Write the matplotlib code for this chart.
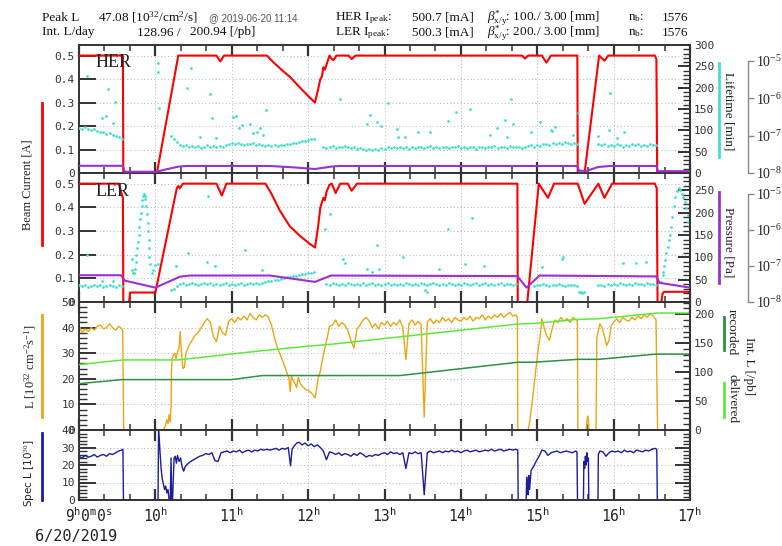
import numpy as np
import matplotlib
matplotlib.use("Agg")
import matplotlib.pyplot as plt
import matplotlib.transforms as mtransforms
from matplotlib.lines import Line2D
from matplotlib.ticker import (MultipleLocator, FixedLocator, FuncFormatter,
                               NullLocator)

plt.rcParams.update({
    "font.family": "DejaVu Sans Mono",
    "mathtext.fontset": "custom",
    "mathtext.rm": "Liberation Serif",
    "mathtext.it": "Liberation Serif:italic",
    "mathtext.bf": "Liberation Serif:bold",
    "mathtext.tt": "DejaVu Sans Mono",
    "mathtext.sf": "DejaVu Sans",
})

STEP = 0.04  # h, sampling interval of the noisy records

# ---------------------------------------------------------------- beam currents [A]
her_cur_t = [9.00, 9.575, 9.58, 10.02, 10.30, 10.80, 10.85, 10.90, 11.46, 11.55, 11.65,
             11.76, 11.89, 12.00, 12.09, 12.13, 12.16, 12.18, 12.20, 12.22, 12.25, 12.28,
             12.30, 12.33, 12.37, 12.53, 12.57, 12.62, 14.80, 14.84, 14.88, 15.06, 15.12,
             15.18, 15.525, 15.53, 15.62, 15.81, 15.88, 15.93, 16.54, 16.56, 16.57, 17.00]
her_cur_v = [0.50, 0.50, 0.00, 0.00, 0.50, 0.50, 0.475, 0.50, 0.50, 0.47, 0.44,
             0.41, 0.365, 0.328, 0.30, 0.355, 0.40, 0.41, 0.45, 0.44, 0.47, 0.50,
             0.49, 0.48, 0.50, 0.50, 0.485, 0.50, 0.50, 0.487, 0.50, 0.50, 0.47,
             0.50, 0.50, 0.00, 0.00, 0.50, 0.478, 0.50, 0.50, 0.485, 0.00, 0.00]

ler_cur_t = [9.00, 9.52, 9.56, 9.575, 9.58, 9.655, 9.67, 10.00, 10.28, 10.30, 10.32,
             10.36, 10.80, 10.87, 10.93, 11.44, 11.52, 11.63, 11.76, 11.89, 12.02, 12.09,
             12.13, 12.16, 12.20, 12.22, 12.24, 12.28, 12.31, 12.36, 12.42, 12.52, 12.57,
             12.64, 14.74, 14.745, 14.87, 15.02, 15.14, 15.22, 15.53, 15.62, 15.80, 15.88,
             15.98, 16.54, 16.565, 16.575, 16.625, 16.64, 16.66, 17.00]
ler_cur_v = [0.50, 0.50, 0.455, 0.44, 0.00, 0.00, 0.04, 0.04, 0.48, 0.49, 0.48,
             0.50, 0.50, 0.45, 0.50, 0.50, 0.457, 0.386, 0.32, 0.28, 0.246, 0.23,
             0.317, 0.40, 0.44, 0.43, 0.465, 0.495, 0.50, 0.46, 0.50, 0.50, 0.47,
             0.50, 0.50, 0.00, 0.00, 0.50, 0.44, 0.50, 0.50, 0.415, 0.50, 0.44,
             0.50, 0.50, 0.48, 0.00, 0.00, 0.035, 0.043, 0.043]

# ---------------------------------------------------------------- pressures [Pa]
her_pres_t = [9.00, 9.57, 9.60, 10.02, 10.10, 10.30, 10.40, 11.50, 11.80, 12.09, 12.30,
              12.40, 15.52, 15.55, 15.65, 15.80, 15.95, 16.56, 16.58, 17.00]
her_pres_v = [1.56e-8, 1.56e-8, 1.08e-8, 1.08e-8, 1.2e-8, 1.48e-8, 1.54e-8, 1.54e-8,
              1.42e-8, 1.28e-8, 1.48e-8, 1.54e-8, 1.54e-8, 1.15e-8, 1.15e-8, 1.45e-8,
              1.54e-8, 1.54e-8, 1.12e-8, 1.12e-8]

ler_pres_t = [9.00, 9.55, 9.60, 10.00, 10.32, 10.45, 11.50, 11.80, 12.09, 12.30, 14.74,
              14.86, 15.03, 16.56, 16.60, 17.00]
ler_pres_v = [5.5e-8, 5.5e-8, 3.9e-8, 2.5e-8, 5.0e-8, 5.4e-8, 5.4e-8, 4.4e-8, 3.6e-8,
              5.4e-8, 5.2e-8, 2.5e-8, 5.4e-8, 5.1e-8, 3.4e-8, 2.5e-8]

# ---------------------------------------------------------------- beam lifetimes [min]
her_life_run1 = (9.00, [106, 104, 108, 103, 101, 104, 99, 97, 95, 92, 94, 89, 86, 84, 80])
her_life_run2 = (10.20, [86, 79, 72, 66, 63, 65, 61, 64, 60, 63, 59, 62, 65, 61, 63, 60,
                         64, 62, 66, 68, 70, 67, 71, 68, 66, 69, 67, 70, 66, 68, 65, 64,
                         66, 63, 65, 64, 66, 65, 68, 67, 70, 71, 73, 74, 76, 77, 79, 80])
her_life_run3 = (12.20, [62, 58, 61, 63, 59, 62, 60, 64, 61, 58, 60, 57, 59, 56, 55,
                         57, 54, 56, 55, 58, 57, 60, 58, 61, 59, 62, 58, 60, 57, 61,
                         59, 62, 60, 58, 61, 63, 59, 61, 58, 60, 62, 59, 61, 60, 63,
                         58, 61, 59, 62, 60, 57, 60, 62, 59, 61, 60, 63, 58, 61, 62,
                         59, 64, 61, 60, 62, 58, 61, 63, 65, 62, 66, 64, 67, 69, 66,
                         70, 68, 71, 69, 72, 70, 68, 71, 69])
her_life_run4 = (15.80, [68, 65, 67, 63, 66, 64, 67, 65, 62, 66, 64, 67, 65, 68, 64,
                         66, 63, 67, 65, 66])
her_life_spread = [(9.10, 227), (9.38, 198), (9.36, 134), (9.47, 166), (9.44, 118),
                   (9.30, 128), (10.03, 258), (10.04, 237), (10.05, 152), (10.42, 200),
                   (10.47, 245), (10.71, 184), (10.74, 129), (10.58, 85), (10.80, 81),
                   (11.02, 131), (11.06, 134), (11.10, 105), (11.13, 112), (11.24, 116),
                   (11.28, 93), (11.33, 97), (11.37, 105), (11.45, 148), (11.41, 88),
                   (12.42, 173), (12.77, 114), (12.81, 136), (12.90, 120), (12.96, 110),
                   (13.05, 165), (13.16, 102), (13.18, 85), (13.27, 85), (13.44, 97),
                   (13.59, 95), (13.83, 122), (13.94, 144), (14.12, 149), (14.38, 89),
                   (14.47, 106), (14.58, 124), (14.60, 85), (14.66, 173), (14.68, 116),
                   (14.92, 95), (15.03, 120), (15.19, 99), (15.23, 107), (15.18, 101),
                   (15.47, 89), (15.54, 141), (15.80, 87), (15.94, 101), (15.95, 187),
                   (16.04, 81), (16.13, 97)]

ler_life_run1 = (9.00, [38, 35, 37, 34, 36, 39, 35, 37, 33, 36, 38, 35, 34, 37, 36])
ler_life_rise1 = [(9.69, 97), (9.70, 72), (9.71, 64), (9.72, 66), (9.73, 75), (9.74, 90),
                  (9.75, 105), (9.76, 120), (9.77, 135), (9.78, 150), (9.79, 168),
                  (9.80, 185), (9.81, 200), (9.82, 215), (9.83, 228), (9.84, 237),
                  (9.85, 241), (9.86, 238), (9.87, 230), (9.88, 216), (9.89, 198),
                  (9.90, 178), (9.905, 160), (9.91, 140), (9.915, 120), (9.92, 100),
                  (9.925, 86), (9.95, 64), (9.97, 71), (10.00, 82), (10.04, 86)]
ler_life_run2 = (10.20, [26, 30, 35, 40, 42, 39, 41, 43, 40, 38, 41, 43, 40, 42, 39, 41,
                         38, 40, 42, 39, 41, 38, 40, 42, 39, 41, 43, 40, 42, 41, 43, 45,
                         46, 47, 49, 50, 52, 53, 55, 56, 58, 59, 61, 62, 63, 65, 66, 68])
ler_life_run3 = (12.24, [41, 38, 42, 40, 37, 41, 39, 43, 40, 38,
                         41, 39, 42, 37, 40, 43, 39, 41, 38, 40,
                         42, 39, 41, 37, 40, 38, 42, 40, 39, 41,
                         38, 42, 40, 39, 41, 43, 40, 38, 41, 39,
                         42, 40, 37, 41, 39, 42, 40, 38, 41, 43,
                         39, 40, 42, 38, 41, 39, 40, 42, 38, 41,
                         40, 39, 41])
ler_life_run4 = (14.96, [36, 39, 37, 40, 38, 36, 39, 37, 40, 38, 36, 39, 37, 38, 36])
ler_life_dip = [(15.55, 22), (15.57, 23), (15.59, 21), (15.61, 22)]
ler_life_run5 = (15.80, [37, 39, 36, 40, 38, 41, 39, 42, 40, 38, 41, 39, 42, 40, 41,
                         39, 42, 40, 41, 39])
ler_life_rise2 = [(16.62, 45), (16.64, 60), (16.65, 67), (16.66, 80), (16.67, 94),
                  (16.69, 110), (16.71, 123), (16.73, 140), (16.74, 150), (16.75, 168),
                  (16.77, 190), (16.79, 215), (16.81, 235), (16.83, 248), (16.85, 255),
                  (16.87, 251), (16.89, 243), (16.91, 235), (16.93, 225), (16.95, 210),
                  (16.97, 195), (16.98, 180), (16.99, 168), (17.00, 157)]
ler_life_spread = [(9.10, 105), (9.30, 46), (9.45, 47), (10.27, 81), (10.43, 109),
                   (10.67, 90), (10.69, 238), (10.78, 81), (11.17, 116), (11.39, 71),
                   (12.22, 163), (12.29, 197), (12.46, 96), (12.48, 88), (12.77, 75),
                   (12.83, 67), (12.90, 127), (12.93, 75), (13.24, 101), (13.53, 26),
                   (13.55, 22), (13.72, 75), (13.83, 163), (14.06, 85), (14.15, 189),
                   (14.30, 80), (15.06, 79), (15.32, 96), (15.34, 101), (16.12, 88),
                   (16.29, 88), (16.43, 90)]

# ---------------------------------------------------------------- luminosity [1e32 cm-2 s-1]
lum_run1 = (9.00, [41, 38, 39.5, 38.5, 40, 39, 40.5, 41, 39.5, 40, 41.5, 40, 39, 40.5, 39.5])
lum_edge1 = [(9.572, 39), (9.578, 20), (9.585, 0), (10.10, 0), (10.13, 1.5), (10.15, 4),
             (10.165, 2.5), (10.18, 6), (10.195, 3), (10.205, 9), (10.21, 22), (10.22, 28),
             (10.25, 30), (10.27, 28), (10.29, 30.5), (10.31, 32), (10.325, 38.5),
             (10.34, 31), (10.36, 24), (10.38, 24.5)]
lum_run2 = (10.40, [30, 33, 35, 37, 38, 40, 42, 43.5, 42, 36.5, 34.5, 40.5, 38, 37,
                    42.5, 43.5, 42, 44, 43, 44.5, 43, 45.5, 44, 43, 45, 44, 45, 44])
lum_edge2 = [(11.52, 41), (11.56, 36), (11.60, 32), (11.64, 29), (11.68, 26), (11.72, 22.5),
             (11.75, 20), (11.765, 15), (11.78, 21), (11.80, 19.5), (11.83, 18),
             (11.85, 16.5), (11.87, 20.5), (11.90, 18), (11.93, 17), (11.96, 16),
             (12.00, 15.5), (12.04, 14.5), (12.07, 13.5), (12.09, 12.5), (12.11, 16),
             (12.13, 20), (12.16, 23), (12.19, 28), (12.22, 32), (12.25, 36), (12.28, 40.5)]
lum_run3 = (12.32, [41, 43, 40.5, 42, 41, 39, 35, 32, 39.5, 41, 43, 44, 42.5, 40, 41.5,
                    39.5, 42, 41, 42.5, 40.5, 42, 41, 43, 40, 27.5, 41.5, 43, 41, 42.5, 41,
                    5, 42, 43.5, 41.5, 43, 42, 44, 42.5, 43.5, 42, 44, 43, 42.5, 44, 43,
                    44.5, 42.5, 44, 43.5, 45, 43, 44.5, 43.5, 45, 44, 45.5, 44, 45, 46,
                    44.5, 45])
lum_edge3 = [(14.74, 44), (14.745, 0), (14.88, 0), (14.90, 3), (14.93, 10), (14.96, 18),
             (14.99, 26), (15.01, 31), (15.035, 36), (15.06, 43.5), (15.09, 40),
             (15.12, 37), (15.16, 35), (15.19, 39), (15.23, 43)]
lum_run4 = (15.27, [42, 44, 42.5, 43.5, 42, 44, 43])
lum_edge4 = [(15.525, 43), (15.532, 0), (15.64, 0), (15.65, 3), (15.66, 5.5), (15.67, 4),
             (15.675, 1), (15.68, 0), (15.77, 0), (15.775, 20), (15.78, 36), (15.82, 41.5),
             (15.85, 40), (15.88, 36.5), (15.91, 33), (15.94, 35), (15.97, 41)]
lum_run5 = (16.00, [42, 43.5, 42, 44, 43, 42.5, 44, 43, 44.5, 43.5, 45, 44, 45.5, 44.5])
lum_edge5 = [(16.555, 43), (16.575, 0), (17.00, 0)]

# ---------------------------------------------------------------- integrated luminosity [/pb]
int_del_t = [9.00, 9.58, 10.30, 10.98, 11.48, 12.02, 12.30, 14.75, 14.95, 15.53, 15.80,
             16.57, 17.00]
int_del_v = [113, 121, 121, 131, 138, 145, 148, 183, 184, 191, 192, 202, 202]
int_rec_t = [9.00, 9.56, 11.00, 11.40, 13.20, 14.75, 14.95, 15.53, 15.80, 16.55, 17.00]
int_rec_v = [80, 87, 87, 94, 94, 117, 117, 122, 122, 131, 131]

# ---------------------------------------------------------------- specific luminosity [1e30]
spc_run1 = (9.00, [25, 24, 25.5, 24.5, 25, 26, 24.5, 25.5, 26, 25, 26.5, 26, 27, 28])
spc_edge1 = [(9.555, 28.5), (9.575, 29), (9.582, 0), (10.035, 0), (10.042, 42), (10.06, 28),
             (10.075, 18), (10.09, 12), (10.105, 9), (10.12, 6), (10.135, 8), (10.15, 4),
             (10.165, 6), (10.18, 0), (10.195, 0), (10.205, 24), (10.215, 0), (10.225, 0),
             (10.235, 12), (10.245, 24), (10.26, 25), (10.275, 21), (10.29, 25.5),
             (10.31, 22), (10.33, 24), (10.35, 19), (10.37, 16.5), (10.39, 19)]
spc_run2 = (10.42, [20.5, 22, 23, 24, 25, 25.5, 26.5, 26, 27, 22.5, 22, 27, 27.5, 28, 27,
                    28, 27.5, 28.5, 27, 28, 28.5, 27.5, 28.5, 28, 29, 28.5, 29, 28.5, 29,
                    29.5, 28.5, 29.5, 29, 30])
spc_edge2 = [(11.77, 19.5), (11.79, 29), (11.82, 31), (11.85, 32.5)]
spc_run3 = (11.88, [33, 31.5, 32.5, 31, 32, 30.5, 31.5, 30, 28, 23, 27.5, 27, 26, 27, 25.5,
                    26.5, 26, 25, 26.5, 25.5, 27, 26, 24.5, 25.5, 25, 26, 25.5])
spc_run4 = (12.96, [26.5, 27, 26, 27.5, 26.5, 27, 26, 27, 18, 27, 26.5, 27.5, 26.5, 27, 3,
                    27, 28, 27, 27.5, 28, 27, 28, 27.5, 28.5, 27.5, 28, 27, 28, 28.5, 27.5,
                    28, 28.5, 27.5, 28, 28.5, 28, 29, 28, 28.5, 29, 28, 28.5, 29, 28.5, 29])
spc_edge3 = [(14.745, 28.5), (14.75, 0), (14.855, 0), (14.862, 13), (14.87, 5), (14.88, 3),
             (14.89, 14), (14.90, 6), (14.92, 17), (14.95, 19), (14.99, 22.5), (15.03, 25.5),
             (15.06, 28.5), (15.10, 28), (15.14, 25.5)]
spc_run5 = (15.18, [27, 27.5, 28, 27, 27.5, 28, 27.5, 27, 28])
spc_edge4 = [(15.52, 27.5), (15.527, 0), (15.605, 0), (15.61, 22), (15.62, 18), (15.63, 25),
             (15.64, 20), (15.65, 27), (15.66, 22), (15.67, 24), (15.675, 0), (15.795, 0),
             (15.80, 26), (15.82, 28)]
spc_run6 = (15.86, [27.5, 25, 27, 28, 27.5, 28, 27, 28.5, 27.5, 28, 27, 28.5, 28, 27.5,
                    28.5, 28, 29, 29.5])
spc_edge5 = [(16.565, 29), (16.572, 0), (17.00, 0)]

hour_ticks = [9, 10, 11, 12, 13, 14, 15, 16, 17]


def seq(*parts):
    """Join regularly sampled runs (start, values) and explicit (t, v) points."""
    t, v = [], []
    for p in parts:
        if isinstance(p, tuple):
            start, vals = p
            t += [start + STEP * i for i in range(len(vals))]
            v += list(vals)
        else:
            t += [a for a, _ in p]
            v += [b for _, b in p]
    order = np.argsort(t, kind="stable")
    return np.asarray(t)[order], np.asarray(v)[order]


RED, PURPLE, CYAN = "#ff0000", "#9b30d0", "#40e0d0"
ORANGE, LGREEN, DGREEN, BLUE = "#eba612", "#5ee83c", "#2f9140", "#1c1c9c"
SPINE, GRID = "#333333", "#b4b4b4"
SERIF = "Liberation Serif"

W_PX, H_PX = 782, 546
X0, X1 = 79, 690

fig = plt.figure(figsize=(W_PX / 100, H_PX / 100), dpi=100)


def fx(px):
    return px / W_PX


def fy(py):
    return 1 - py / H_PX


def panel(top, bot):
    return fig.add_axes([fx(X0), fy(bot), (X1 - X0) / W_PX, (bot - top) / H_PX])


ax_her = panel(45, 173)
ax_ler = panel(173, 302)
ax_lum = panel(302, 430)
ax_spc = panel(430, 500)


def base_style(ax, ymax, ymajor, yminor=None, fmt=None):
    ax.set_xlim(9, 17)
    ax.set_ylim(0, ymax)
    ax.xaxis.set_major_locator(FixedLocator(hour_ticks))
    ax.xaxis.set_minor_locator(MultipleLocator(1 / 3))
    ax.yaxis.set_major_locator(MultipleLocator(ymajor))
    ax.yaxis.set_minor_locator(MultipleLocator(yminor) if yminor else NullLocator())
    if fmt:
        ax.yaxis.set_major_formatter(FuncFormatter(fmt))
    ax.tick_params(axis="x", which="both", direction="in", top=True, bottom=True,
                   labelbottom=False, color=SPINE)
    ax.tick_params(axis="x", which="major", length=8, width=1.6)
    ax.tick_params(axis="x", which="minor", length=4.5, width=1.1)
    ax.tick_params(axis="y", which="both", direction="in", left=True, right=False,
                   color=SPINE, labelsize=8, labelcolor="#333333", pad=3)
    ax.tick_params(axis="y", which="major", length=12, width=1.4)
    ax.tick_params(axis="y", which="minor", length=6, width=1.0)
    for s in ax.spines.values():
        s.set_linewidth(1.4)
        s.set_color(SPINE)
    ax.grid(True, which="major", ls=(0, (1, 2.5)), color=GRID, lw=0.7)
    ax.set_axisbelow(True)


def twin_right(ax, top, major, minor, labels=True, ticklen=9):
    tw = ax.twinx()
    tw.set_ylim(0, top)
    tw.yaxis.set_major_locator(MultipleLocator(major))
    tw.yaxis.set_minor_locator(MultipleLocator(minor))
    tw.tick_params(axis="y", which="both", direction="in", color=SPINE, labelsize=8,
                   labelcolor="#333333", pad=3, labelright=labels)
    tw.tick_params(axis="y", which="major", length=ticklen, width=1.4)
    tw.tick_params(axis="y", which="minor", length=5, width=1.0)
    for s in ("left", "top", "bottom"):
        tw.spines[s].set_visible(False)
    tw.spines["right"].set_linewidth(1.4)
    tw.spines["right"].set_color(SPINE)
    return tw


def twin_log(ax, top_exp):
    tw = ax.twinx()
    tw.set_yscale("log")
    tw.set_ylim(1e-8, 10 ** top_exp)
    tw.spines["right"].set_position(("axes", 1 + 57.7 / (X1 - X0)))
    tw.spines["right"].set_bounds(1e-8, 1e-5)
    tw.spines["right"].set_color("#888888")
    tw.spines["right"].set_linewidth(1.0)
    for s in ("left", "top", "bottom"):
        tw.spines[s].set_visible(False)
    tw.yaxis.set_major_locator(FixedLocator([1e-8, 1e-7, 1e-6, 1e-5]))
    tw.yaxis.set_minor_locator(NullLocator())
    tw.yaxis.set_major_formatter(
        FuncFormatter(lambda v, p: r"$10^{%d}$" % int(round(np.log10(v)))))
    tw.tick_params(axis="y", direction="out", length=4, width=1.0, color="#888888",
                   labelsize=10, labelcolor="#222222", pad=2)
    return tw


cur_fmt = lambda v, p: "0" if abs(v) < 1e-9 else f"{v:.1f}"
int_fmt = lambda v, p: f"{v:.0f}"

# ---------------------------------------------------------------- HER / LER panels
for ax, ct, cv, life_parts, pt, pv, life_top, log_top, name, name_y in [
    (ax_her, her_cur_t, her_cur_v,
     [her_life_run1, her_life_run2, her_life_run3, her_life_run4, her_life_spread],
     her_pres_t, her_pres_v, 300, -4.57, "HER", 62.7),
    (ax_ler, ler_cur_t, ler_cur_v,
     [ler_life_run1, ler_life_rise1, ler_life_run2, ler_life_run3, ler_life_run4,
      ler_life_dip, ler_life_run5, ler_life_rise2, ler_life_spread],
     ler_pres_t, ler_pres_v, 289, -4.43, "LER", 191.7),
]:
    base_style(ax, 0.545, 0.1, fmt=cur_fmt)
    ax.plot(ct, cv, color=RED, lw=1.5, zorder=3)
    tw_life = twin_right(ax, life_top, 50, 10, ticklen=9)
    lt, lv = seq(*life_parts)
    tw_life.plot(lt, lv, ls="none", marker="o", ms=2.0, mec="none", mfc=CYAN)
    tw_p = twin_log(ax, log_top)
    tw_p.plot(pt, pv, color=PURPLE, lw=1.5)
    fig.text(fx(96), fy(name_y), name, family=SERIF, size=13, ha="left", va="center",
             color="#222222")

# ---------------------------------------------------------------- luminosity panel
base_style(ax_lum, 50, 10, 2, fmt=int_fmt)
lum_t, lum_v = seq(lum_run1, lum_edge1, lum_run2, lum_edge2, lum_run3, lum_edge3,
                   lum_run4, lum_edge4, lum_run5, lum_edge5)
ax_lum.plot(lum_t, lum_v, color=ORANGE, lw=1.0)
tw_int = twin_right(ax_lum, 221, 50, 10, ticklen=11)
tw_int.plot(int_del_t, int_del_v, color=LGREEN, lw=1.1)
tw_int.plot(int_rec_t, int_rec_v, color=DGREEN, lw=1.1)

# ---------------------------------------------------------------- specific luminosity panel
base_style(ax_spc, 40, 10, 2, fmt=int_fmt)
spc_t, spc_v = seq(spc_run1, spc_edge1, spc_run2, spc_edge2, spc_run3, spc_run4,
                   spc_edge3, spc_run5, spc_edge4, spc_run6, spc_edge5)
ax_spc.plot(spc_t, spc_v, color=BLUE, lw=1.0, clip_on=True)
twin_right(ax_spc, 40, 10, 2, labels=False, ticklen=11)

# time labels under the bottom panel
tick_tr = mtransforms.blended_transform_factory(ax_spc.transData, fig.transFigure)
for h in hour_ticks:
    if h == hour_ticks[0]:
        shift = mtransforms.ScaledTranslation(-14 / 100, 0, fig.dpi_scale_trans)
        fig.text(h, fy(522), r"$\mathtt{%d^{h}0^{m}0^{s}}$" % h, transform=tick_tr + shift,
                 ha="left", va="baseline", size=10.5, color="#222222")
    else:
        fig.text(h, fy(522), r"$\mathtt{%d^{h}}$" % h, transform=tick_tr,
                 ha="center", va="baseline", size=10.5, color="#222222")
fig.text(fx(35), fy(541), "6/20/2019", ha="left", va="baseline", size=11, color="#222222")

# ---------------------------------------------------------------- axis titles with colour keys
def key_line(x, y0, y1, color):
    fig.add_artist(Line2D([fx(x), fx(x)], [fy(y0), fy(y1)], transform=fig.transFigure,
                          color=color, lw=2.0))


def vlabel(x, y, text, rot, size=9, family=SERIF):
    fig.text(fx(x), fy(y), text, rotation=rot, ha="center", va="center", size=size,
             family=family, color="#222222", rotation_mode="anchor")


vlabel(28, 185, "Beam Current [A]", 90, size=9)
key_line(42, 103, 245, RED)
vlabel(30, 367, r"L [10$^{32}$ cm$^{-2}$s$^{-1}$]", 90, size=9)
key_line(42, 315, 417, ORANGE)
vlabel(30, 473, r"Spec L [10$^{30}$]", 90, size=7.5, family="DejaVu Sans")
key_line(42, 433, 500, BLUE)

vlabel(728, 111, "Lifetime [min]", 270, size=9.5)
key_line(719, 63, 157, CYAN)
vlabel(728, 242, "Pressure [Pa]", 270, size=9.5)
key_line(719, 192, 283, PURPLE)
vlabel(732, 332, "recorded", 270, size=9.5)
key_line(724, 317, 350, DGREEN)
vlabel(732, 399, "delivered", 270, size=9.5)
key_line(724, 383, 417, LGREEN)
vlabel(749, 366, "Int. L [/pb]", 270, size=9.5)

# ---------------------------------------------------------------- run summary header
B1, B2 = fy(20.7), fy(35.5)
HDR = dict(family=SERIF, size=9.5, color="#111111", va="baseline", ha="left")
fig.text(fx(41.7), B1, "Peak L", **HDR)
fig.text(fx(97.7), B1, r"47.08 [10$^{32}$/cm$^{2}$/s]", **HDR)
fig.text(fx(209), B1, "@ 2019-06-20 11:14", family="Liberation Sans", size=7,
         color="#555555", va="baseline", ha="left")
fig.text(fx(335), B1, r"HER I$_{\rm peak}$:", **HDR)
fig.text(fx(412), B1, "500.7 [mA]", **HDR)
fig.text(fx(487), B1, r"$\beta^{*}_{\rm x/y}$: 100./ 3.00 [mm]", **HDR)
fig.text(fx(628), B1, r"n$_{\rm b}$:", **HDR)
fig.text(fx(662), B1, "1576", **HDR)

fig.text(fx(41.7), B2, "Int. L/day", **HDR)
fig.text(fx(136.7), B2, "128.96 /", **HDR)
fig.text(fx(190), B2, "200.94 [/pb]", **HDR)
fig.text(fx(335), B2, r"LER I$_{\rm peak}$:", **HDR)
fig.text(fx(412), B2, "500.3 [mA]", **HDR)
fig.text(fx(487), B2, r"$\beta^{*}_{\rm x/y}$: 200./ 3.00 [mm]", **HDR)
fig.text(fx(628), B2, r"n$_{\rm b}$:", **HDR)
fig.text(fx(662), B2, "1576", **HDR)

fig.savefig("out.png", dpi=100)
